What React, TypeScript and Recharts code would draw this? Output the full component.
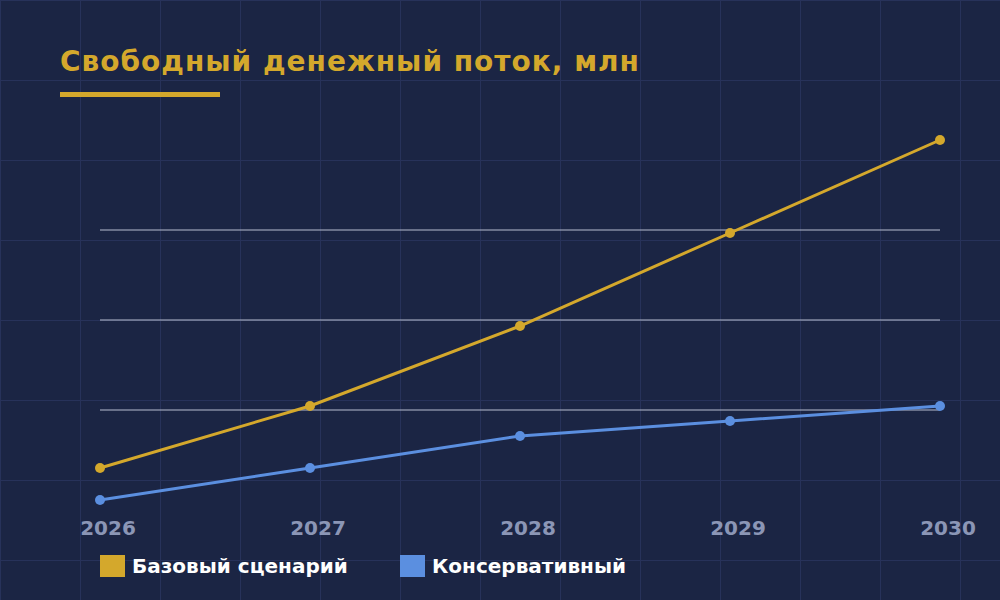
import React from 'react';
import { LineChart, Line, XAxis, YAxis, ReferenceLine } from 'recharts';

const years = ['2026', '2027', '2028', '2029', '2030'];
const baseValues = [15.2, 21.4, 29.4, 38.7, 48.0];
const conservativeValues = [12.0, 15.2, 18.4, 19.9, 21.4];
const yTicks = [12, 21, 30, 39, 48];
const gridValues = [21, 30, 39];
const seriesNames = ['Базовый сценарий', 'Консервативный'];

const GOLD = '#d4a82c';
const BLUE = '#5b8fe0';
const BG = '#1b2544';

const data = years.map((y, i) => ({ year: y, base: baseValues[i], cons: conservativeValues[i] }));

const FONT = '"DejaVu Sans", sans-serif';

const Tick = (props: any) => {
  const { x, y, payload } = props;
  return (
    <text x={x + 8} y={y + 35} textAnchor="middle" fill="#8b96b6" fontSize={20} fontWeight="bold" fontFamily={FONT}>
      {payload.value}
    </text>
  );
};

export default function App() {
  return (
    <div
      style={{
        position: 'absolute',
        left: 0,
        top: 0,
        width: 1000,
        height: 600,
        backgroundColor: BG,
        backgroundImage:
          'linear-gradient(#27325a 1px, transparent 1px), linear-gradient(90deg, #27325a 1px, transparent 1px)',
        backgroundSize: '80px 80px',
        overflow: 'hidden',
      }}
    >
      <div
        style={{
          position: 'absolute',
          left: 60,
          top: 42,
          fontFamily: FONT,
          fontWeight: 'bold',
          fontSize: 28,
          letterSpacing: 1,
          color: GOLD,
          lineHeight: '40px',
          whiteSpace: 'nowrap',
        }}
      >
        Свободный денежный поток, млн
      </div>
      <div style={{ position: 'absolute', left: 60, top: 92, width: 160, height: 5, background: GOLD }} />
      <div style={{ position: 'absolute', left: 0, top: 0 }}>
        <LineChart width={1000} height={600} data={data} margin={{ top: 140, right: 60, bottom: 60, left: 100 }}>
          <XAxis
            dataKey="year"
            axisLine={false}
            tickLine={false}
            tickSize={0}
            tickMargin={0}
            height={40}
            tick={<Tick />}
            interval={0}
          />
          <YAxis hide domain={[12, 48]} ticks={yTicks} />
          {gridValues.map((v) => (
            <ReferenceLine key={v} y={v} stroke="#b8bed0" strokeWidth={1} />
          ))}
          <Line
            type="linear"
            dataKey="base"
            name={seriesNames[0]}
            stroke={GOLD}
            strokeWidth={3}
            dot={{ r: 5, fill: GOLD, stroke: GOLD, strokeWidth: 0 }}
            activeDot={false}
            isAnimationActive={false}
          />
          <Line
            type="linear"
            dataKey="cons"
            name={seriesNames[1]}
            stroke={BLUE}
            strokeWidth={3}
            dot={{ r: 5, fill: BLUE, stroke: BLUE, strokeWidth: 0 }}
            activeDot={false}
            isAnimationActive={false}
          />
        </LineChart>
      </div>
      <div
        style={{
          position: 'absolute',
          left: 100,
          top: 554,
          display: 'flex',
          alignItems: 'center',
          fontFamily: FONT,
          fontWeight: 'bold',
          fontSize: 20,
          color: '#ffffff',
        }}
      >
        <div style={{ display: 'flex', alignItems: 'center', width: 300 }}>
          <div style={{ width: 25, height: 22, background: GOLD, marginRight: 7 }} />
          <span>{seriesNames[0]}</span>
        </div>
        <div style={{ display: 'flex', alignItems: 'center' }}>
          <div style={{ width: 25, height: 22, background: BLUE, marginRight: 7 }} />
          <span>{seriesNames[1]}</span>
        </div>
      </div>
    </div>
  );
}
